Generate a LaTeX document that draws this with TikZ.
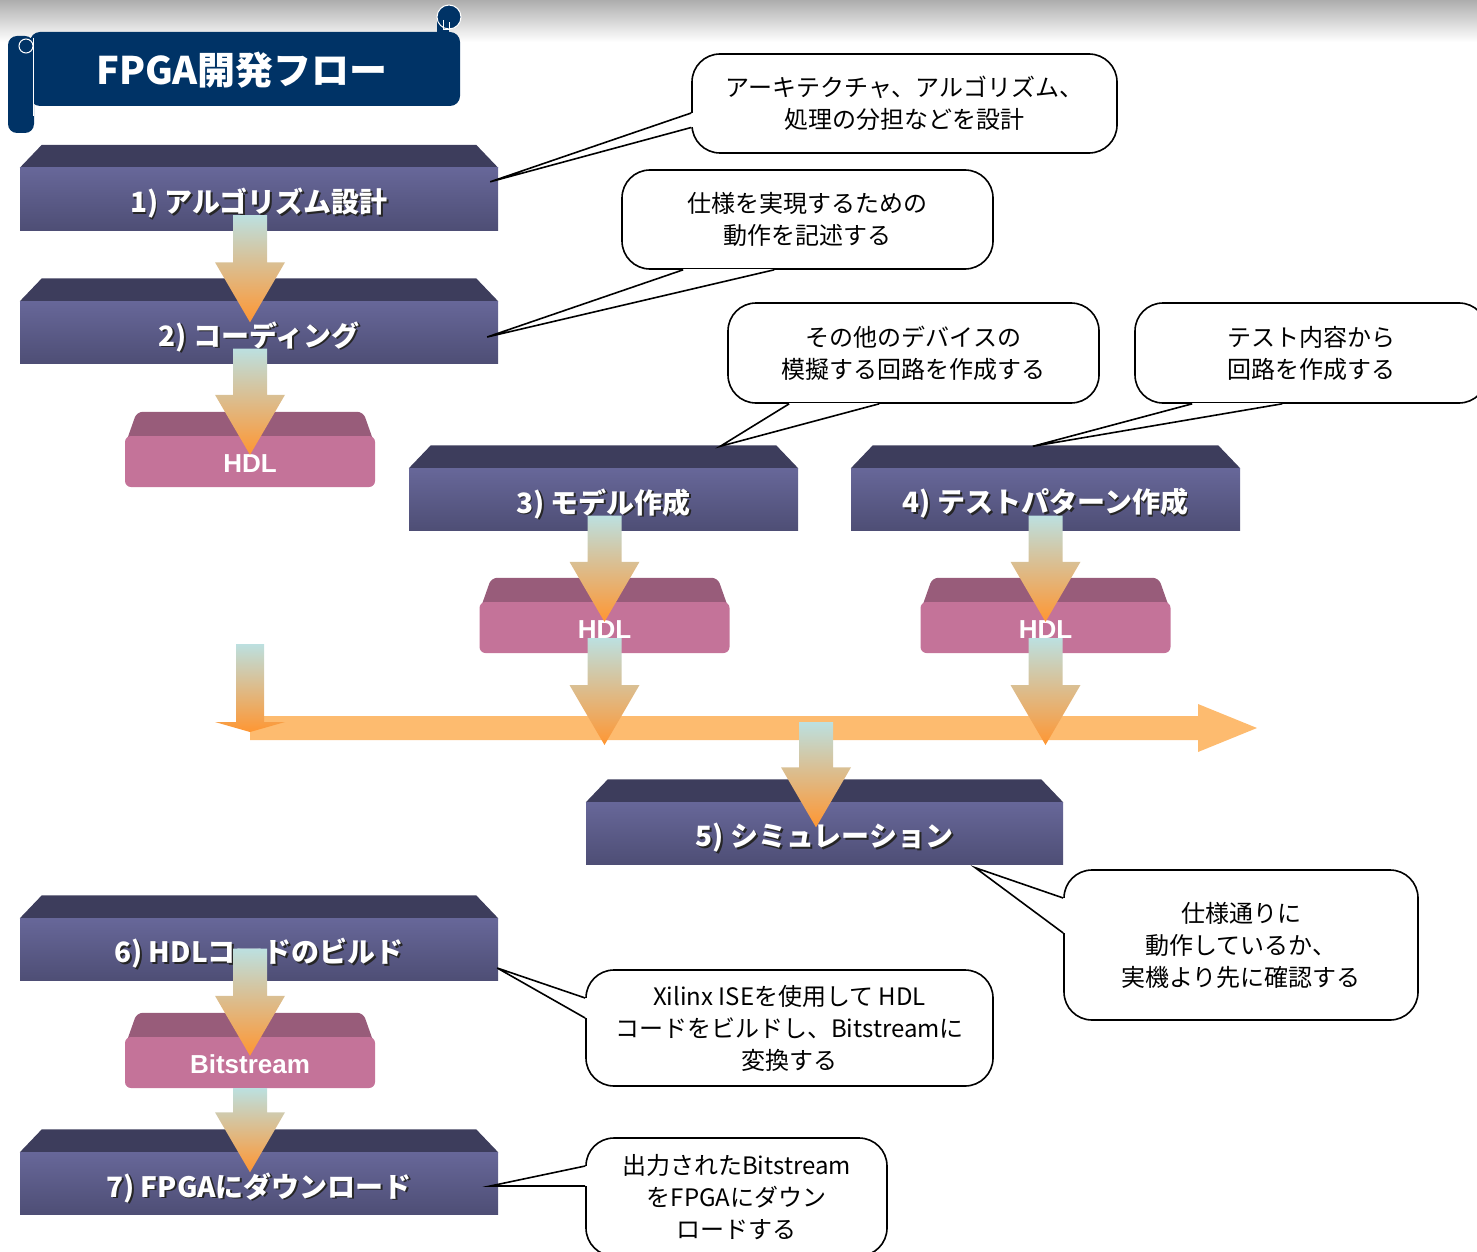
\documentclass[tikz,border=0pt]{standalone}
\usepackage{fontspec}
\newfontfamily\jp{Noto Sans CJK JP}
\newfontfamily\ls{Liberation Sans}
\usetikzlibrary{calc}
\pgfdeclarelayer{back}
\pgfsetlayers{back,main}

\definecolor{navy}{RGB}{0,51,102}
\definecolor{slabtopc}{RGB}{61,61,92}
\definecolor{slabhi}{RGB}{103,103,153}
\definecolor{slablo}{RGB}{78,78,117}
\definecolor{hdltopc}{RGB}{152,92,122}
\definecolor{hdlfrontc}{RGB}{196,115,153}
\definecolor{arrowtop}{RGB}{188,224,224}
\definecolor{arrowbot}{RGB}{255,150,50}
\definecolor{barorange}{RGB}{253,187,111}

\newcommand\shtext[1]{\leavevmode\raisebox{-5pt}[\height][\depth]{\rlap{\kern1.8pt\raisebox{-1.8pt}{\color{black!85}#1}}#1}}
\newcommand\blockarrow[2]{%
  \coordinate (ba) at (#1);
  \coordinate (bb) at (#2);
  \shade[flowarrow] ([xshift=-17pt]ba) -- ([xshift=17pt]ba) -- ([xshift=17pt,yshift=60pt]bb)
    -- ([xshift=35pt,yshift=60pt]bb) -- (bb) -- ([xshift=-35pt,yshift=60pt]bb)
    -- ([xshift=-17pt,yshift=60pt]bb) -- cycle;}
\newcommand\callpoint[3]{%
  \fill[white] (#1) -- (#3) -- (#2) -- cycle;
  \draw[white, line width=2.6pt] (#1) -- (#2);
  \draw[bubbleline] (#1) -- (#3) -- (#2);}

\tikzset{
  slabfront/.style={top color=slabhi, bottom color=slablo, minimum height=62pt, inner sep=0pt,
    text=white, font=\jp\bfseries\fontsize{28}{34}\selectfont},
  slabtop/.style={fill=slabtopc},
  hdlfront/.style={fill=hdlfrontc, rounded corners=6pt, minimum width=250pt, minimum height=51pt,
    inner sep=0pt, text=white, font=\ls\bfseries\fontsize{26}{30}\selectfont},
  hdltop/.style={fill=hdltopc, rounded corners=6pt},
  flowarrow/.style={top color=arrowtop, bottom color=arrowbot},
  bubble/.style={draw=black, line width=1.6pt, fill=white, rounded corners=28pt, align=center,
    inner sep=0pt, font=\jp\fontsize{24}{32}\selectfont},
  bubbleline/.style={draw=black, line width=1.6pt, line join=miter},
}

\begin{document}
\begin{tikzpicture}[x=1pt, y=-1pt]
    \useasboundingbox (0,0) rectangle (1477,1252);
    \clip (0,0) rectangle (1477,1252);

    % grey band on top
    \begin{pgfonlayer}{back}
    \shade[top color=black!32, bottom color=white] (0,0) rectangle (1477,42);
    \end{pgfonlayer}

    % title scroll
    \fill[navy, rounded corners=10pt] (30,32) -- (460,32) -- (460,106) -- (30,106) -- cycle;
    \fill[navy] (437,17) rectangle (449,33);
    \filldraw[fill=navy, draw=white, line width=1pt] (449,17) circle (12);
    \draw[white, line width=1pt] (443,20) -- (443,30) -- (449,30) -- (449,22);
    \fill[navy, rounded corners=9pt] (8,36) rectangle (34,133);
    \draw[white, line width=1pt] (33,38) -- (33,116);
    \draw[white, line width=1pt] (26,46) circle (7);
    \node[text=white, font=\jp\bfseries\fontsize{38}{44}\selectfont] (title) at (242,70) {FPGA開発フロー};

    % step slabs
    \foreach \nm/\cx/\cy/\w/\txt in {
      s1/259/199/478/{1) アルゴリズム設計},
      s2/259/332.5/478/{2) コーディング},
      s3/603.5/499.5/389/{3) モデル作成},
      s4/1045.5/499.5/389/{4) テストパターン作成},
      s5/824.5/833.5/477/{5) シミュレーション},
      s6/259/949.5/478/{6) HDLコードのビルド},
      s7/259/1183.5/478/{7) FPGAにダウンロード}}
    {
      \node[slabfront, minimum width=\w pt] (\nm) at (\cx,\cy) {\shtext{\txt}};
      \begin{pgfonlayer}{back}
      \fill[slabtop] (\nm.north west) -- ([xshift=22pt,yshift=23pt]\nm.north west)
        -- ([xshift=-22pt,yshift=23pt]\nm.north east) -- (\nm.north east) -- cycle;
      \end{pgfonlayer}
    }

    % HDL / bitstream boxes
    \foreach \nm/\cx/\cy/\txt in {h1/250/461.5/HDL, h2/604.5/627.5/HDL, h3/1045.5/627.5/HDL, hb/250/1062.5/Bitstream}
    {
      \node[hdlfront] (\nm) at (\cx,\cy) {\raisebox{-2pt}[\height][\depth]{\txt}};
      \begin{pgfonlayer}{back}
      \fill[hdltop] ([yshift=-10pt]\nm.north west) -- ([xshift=12pt,yshift=24pt]\nm.north west)
        -- ([xshift=-12pt,yshift=24pt]\nm.north east) -- ([yshift=-10pt]\nm.north east) -- cycle;
      \end{pgfonlayer}
    }

    % time bar
    \coordinate (bar) at (250,728);
    \coordinate (b5) at (816,722);
    \fill[barorange] ($(bar)+(0,-12)$) -- ++(948,0) -- ++(0,-12) -- ++(59,24) -- ++(-59,24)
      -- ++(0,-12) -- ($(bar)+(0,12)$) -- cycle;
    \shade[flowarrow] ($(bar)+(-14,-84)$) -- ($(bar)+(14,-84)$) -- ($(bar)+(14,-6)$) -- ($(bar)+(35,-6)$)
      -- ($(bar)+(0,4)$) -- ($(bar)+(-35,-6)$) -- ($(bar)+(-14,-6)$) -- cycle;

    % flow arrows
    \blockarrow{$(h1 |- s1.south)+(0,-15)$}{$(h1 |- s2.north)+(0,21)$}
    \blockarrow{$(h1 |- s2.south)+(0,-15)$}{$(h1.north)+(0,19)$}
    \blockarrow{$(h2 |- s3.south)+(0,-15)$}{$(h2.north)+(0,20)$}
    \blockarrow{$(h3 |- s4.south)+(0,-15)$}{$(h3.north)+(0,20)$}
    \blockarrow{$(h2.south)+(0,-15)$}{$(h2 |- bar)+(0,17)$}
    \blockarrow{$(h3.south)+(0,-15)$}{$(h3 |- bar)+(0,17)$}
    \blockarrow{b5}{$(b5 |- s5.north)+(0,25)$}
    \blockarrow{$(hb |- s6.south)+(0,-32)$}{$(hb.north)+(0,19)$}
    \blockarrow{hb.south}{$(hb |- s7.north)+(0,20)$}

    % callouts
    \node[bubble, minimum width=425pt, minimum height=99pt] (c1) at (904.5,103.5) {アーキテクチャ、アルゴリズム、\\処理の分担などを設計};
    \node[bubble, minimum width=371pt, minimum height=99pt] (c2) at (807.5,219.5) {仕様を実現するための\\動作を記述する};
    \node[bubble, minimum width=371pt, minimum height=100pt] (c3) at (913.5,353) {その他のデバイスの\\模擬する回路を作成する};
    \node[bubble, minimum width=352pt, minimum height=100pt] (c4) at (1311,353) {テスト内容から\\回路を作成する};
    \node[bubble, minimum width=354pt, minimum height=150pt] (c5) at (1241,945) {仕様通りに\\動作しているか、\\実機より先に確認する};
    \node[bubble, minimum width=407pt, minimum height=116pt] (c6) at (789.5,1028) {Xilinx ISEを使用して HDL\\コードをビルドし、Bitstreamに\\変換する};
    \node[bubble, minimum width=301pt, minimum height=118pt] (c7) at (736.5,1197) {出力されたBitstream\\をFPGAにダウン\\ロードする};

    % callout pointers
    \coordinate (t1) at ($(s1.north east)+(-8,14)$);
    \coordinate (t2) at ($(s2.east)+(-11,4.5)$);
    \coordinate (t3) at ($(s3.north east)+(-78,-22)$);
    \coordinate (t4) at ($(s4.north west)+(182,-22)$);
    \coordinate (t5) at ($(s5.south east)+(-88,3)$);
    \coordinate (t6) at ($(s6.east)+(-1,18.5)$);
    \coordinate (t7) at ($(s7.east)+(-8,2.5)$);
    \callpoint{$(c1.west)+(0,9.5)$}{$(c1.west)+(0,24)$}{t1}
    \callpoint{$(c2.south west)+(62,0)$}{$(c2.south west)+(153,0)$}{t2}
    \callpoint{$(c3.south west)+(62,0)$}{$(c3.south west)+(152,0)$}{t3}
    \callpoint{$(c4.south west)+(58,0)$}{$(c4.south west)+(148,0)$}{t4}
    \callpoint{$(c5.west)+(0,-47)$}{$(c5.west)+(0,-12)$}{t5}
    \callpoint{$(c6.west)+(0,-30)$}{$(c6.west)+(0,-10)$}{t6}
    \callpoint{$(c7.west)+(0,-31)$}{$(c7.west)+(0,-11)$}{t7}
\end{tikzpicture}
\end{document}
